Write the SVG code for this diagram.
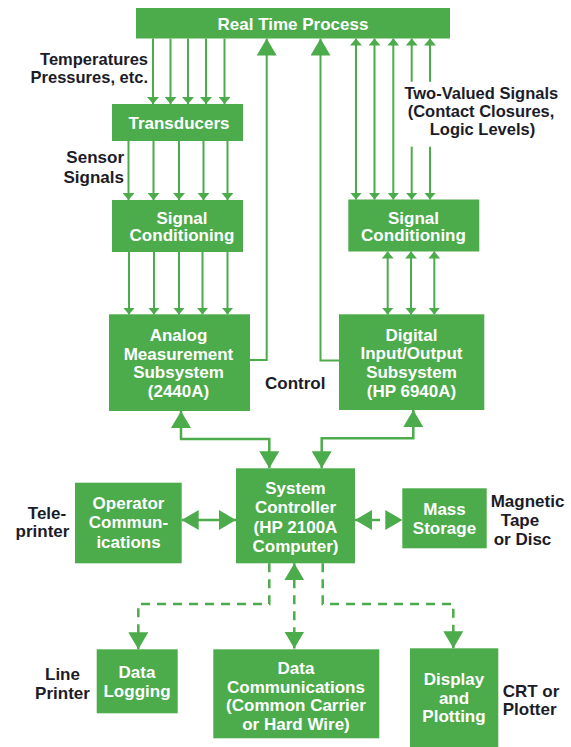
<svg xmlns="http://www.w3.org/2000/svg" width="571" height="747" viewBox="0 0 571 747">
<style>
.box{fill:#4cab4a}
.bt{font-family:"Liberation Sans",Arial,sans-serif;font-weight:700;font-size:17px;fill:#fff;text-anchor:middle}
.lb{font-family:"Liberation Sans",Arial,sans-serif;font-weight:700;font-size:17px;fill:#1c1c28}
.lbs{font-size:16.5px}
.sig{fill:none;stroke:#4cab4a;stroke-width:2}
.con{fill:none;stroke:#4cab4a;stroke-width:2.5}
.dash{fill:none;stroke:#4cab4a;stroke-width:2.5;stroke-dasharray:9 7}
</style>
<defs>
<marker id="sm" viewBox="0 0 7 12" refX="7" refY="6" markerWidth="7" markerHeight="12" markerUnits="userSpaceOnUse" orient="auto-start-reverse">
<path d="M0,0 L7,6 L0,12 z" fill="#4cab4a"/>
</marker>
<marker id="bg" viewBox="0 0 17 20" refX="17" refY="10" markerWidth="17" markerHeight="20" markerUnits="userSpaceOnUse" orient="auto-start-reverse">
<path d="M0,0 L17,10 L0,20 z" fill="#4cab4a"/>
</marker>
</defs>
<rect width="571" height="747" fill="#fff"/>

<g id="connectors">
<!-- RTP to Transducers -->
<path class="sig" marker-end="url(#sm)" d="M153,38.5 V104"/>
<path class="sig" marker-end="url(#sm)" d="M170.5,38.5 V104"/>
<path class="sig" marker-end="url(#sm)" d="M188,38.5 V104"/>
<path class="sig" marker-end="url(#sm)" d="M206,38.5 V104"/>
<path class="sig" marker-end="url(#sm)" d="M224.5,38.5 V104"/>
<!-- Transducers to Signal Conditioning -->
<path class="sig" marker-end="url(#sm)" d="M128.5,141 V200"/>
<path class="sig" marker-end="url(#sm)" d="M153.5,141 V200"/>
<path class="sig" marker-end="url(#sm)" d="M179,141 V200"/>
<path class="sig" marker-end="url(#sm)" d="M203.5,141 V200"/>
<path class="sig" marker-end="url(#sm)" d="M227.5,141 V200"/>
<!-- Signal Conditioning to Analog -->
<path class="sig" marker-end="url(#sm)" d="M129,252 V314.5"/>
<path class="sig" marker-end="url(#sm)" d="M154,252 V314.5"/>
<path class="sig" marker-end="url(#sm)" d="M179,252 V314.5"/>
<path class="sig" marker-end="url(#sm)" d="M202.5,252 V314.5"/>
<path class="sig" marker-end="url(#sm)" d="M227.5,252 V314.5"/>
<!-- RTP to right Signal Conditioning -->
<path class="sig" marker-start="url(#sm)" marker-end="url(#sm)" d="M356,38.5 V199.5"/>
<path class="sig" marker-start="url(#sm)" marker-end="url(#sm)" d="M374.5,38.5 V199.5"/>
<path class="sig" marker-start="url(#sm)" marker-end="url(#sm)" d="M393.3,38.5 V199.5"/>
<path class="sig" marker-start="url(#sm)" d="M411.7,38.5 V81.7"/>
<path class="sig" marker-end="url(#sm)" d="M411.7,146.7 V199.5"/>
<path class="sig" marker-start="url(#sm)" d="M430,38.5 V81.7"/>
<path class="sig" marker-end="url(#sm)" d="M430,146.7 V199.5"/>
<!-- right Signal Conditioning to Digital -->
<path class="sig" marker-start="url(#sm)" marker-end="url(#sm)" d="M387.7,251.5 V314.5"/>
<path class="sig" marker-start="url(#sm)" marker-end="url(#sm)" d="M411,251.5 V314.5"/>
<path class="sig" marker-start="url(#sm)" marker-end="url(#sm)" d="M434.3,251.5 V314.5"/>
<!-- Control lines -->
<path class="sig" marker-end="url(#bg)" d="M250,360 H266.7 V38.5"/>
<path class="sig" marker-end="url(#bg)" d="M339,360.5 H320.5 V38.5"/>
<!-- Subsystems to System Controller -->
<path class="con" marker-start="url(#bg)" marker-end="url(#bg)" d="M181,411 V439 H269.3 V468.3"/>
<path class="con" marker-start="url(#bg)" marker-end="url(#bg)" d="M413.3,410 V438.3 H321.7 V468.3"/>
<!-- Operator <-> System -->
<path class="con" marker-start="url(#bg)" marker-end="url(#bg)" d="M181.7,520 H236"/>
<!-- System <-> Mass Storage -->
<path class="dash" marker-start="url(#bg)" marker-end="url(#bg)" d="M355,520 H402.3"/>
<!-- System to bottom -->
<path class="dash" marker-end="url(#bg)" d="M269.3,563.3 V604 H138.3 V649.3"/>
<path class="dash" marker-start="url(#bg)" marker-end="url(#bg)" d="M294.3,563.3 V648.5"/>
<path class="dash" marker-end="url(#bg)" d="M322.7,563.3 V604 H453.3 V648.3"/>
</g>

<g id="rtp">
<rect class="box" x="136" y="8" width="314" height="30.5"/>
<text class="bt" x="293" y="30">Real Time Process</text>
</g>
<g id="transducers">
<rect class="box" x="112" y="104" width="131" height="37"/>
<text class="bt" x="179" y="129">Transducers</text>
</g>
<g id="sc-left">
<rect class="box" x="112" y="200" width="131" height="52"/>
<text class="bt" x="182" y="223.5">Signal</text>
<text class="bt" x="182" y="241">Conditioning</text>
</g>
<g id="sc-right">
<rect class="box" x="348.3" y="199.5" width="131" height="52"/>
<text class="bt" x="413.5" y="223.5">Signal</text>
<text class="bt" x="413.5" y="241">Conditioning</text>
</g>
<g id="analog">
<rect class="box" x="109" y="314.3" width="141" height="96.7"/>
<text class="bt" x="178.5" y="341">Analog</text>
<text class="bt" x="178.5" y="359.5">Measurement</text>
<text class="bt" x="178.5" y="378">Subsystem</text>
<text class="bt" x="178.5" y="396.5">(2440A)</text>
</g>
<g id="digital">
<rect class="box" x="339" y="314.3" width="145.3" height="95.7"/>
<text class="bt" x="411.5" y="340.5">Digital</text>
<text class="bt" x="411.5" y="359">Input/Output</text>
<text class="bt" x="411.5" y="377.5">Subsystem</text>
<text class="bt" x="411.5" y="396.5">(HP 6940A)</text>
</g>
<g id="system">
<rect class="box" x="236" y="468.3" width="119" height="95"/>
<text class="bt" x="295.5" y="494">System</text>
<text class="bt" x="295.5" y="513">Controller</text>
<text class="bt" x="295.5" y="532.5">(HP 2100A</text>
<text class="bt" x="295.5" y="551.5">Computer)</text>
</g>
<g id="operator">
<rect class="box" x="75" y="482.7" width="106.7" height="80.6"/>
<text class="bt" x="128.5" y="509">Operator</text>
<text class="bt" x="128.5" y="528">Commun-</text>
<text class="bt" x="128.5" y="548">ications</text>
</g>
<g id="mass">
<rect class="box" x="402.3" y="488.3" width="84.4" height="60"/>
<text class="bt" x="444.5" y="515">Mass</text>
<text class="bt" x="444.5" y="533.5">Storage</text>
</g>
<g id="logging">
<rect class="box" x="96.7" y="649.3" width="81" height="64"/>
<text class="bt" x="137" y="678">Data</text>
<text class="bt" x="137" y="697">Logging</text>
</g>
<g id="datacomm">
<rect class="box" x="213.3" y="649.3" width="166" height="89"/>
<text class="bt" x="296" y="673.5">Data</text>
<text class="bt" x="296" y="692.5">Communications</text>
<text class="bt" x="296" y="711">(Common Carrier</text>
<text class="bt" x="296" y="730">or Hard Wire)</text>
</g>
<g id="display">
<rect class="box" x="410" y="648.3" width="88.3" height="98.7"/>
<text class="bt" x="454" y="685">Display</text>
<text class="bt" x="454" y="703.5">and</text>
<text class="bt" x="454" y="722">Plotting</text>
</g>

<g id="labels">
<text class="lb lbs" x="148" y="64.5" text-anchor="end">Temperatures</text>
<text class="lb lbs" x="148" y="82.5" text-anchor="end">Pressures, etc.</text>
<text class="lb" x="124" y="163" text-anchor="end">Sensor</text>
<text class="lb" x="124" y="182.5" text-anchor="end">Signals</text>
<text class="lb lbs" x="481.3" y="99" text-anchor="middle">Two-Valued Signals</text>
<text class="lb lbs" x="481" y="117" text-anchor="middle">(Contact Closures,</text>
<text class="lb lbs" x="482.5" y="135" text-anchor="middle">Logic Levels)</text>
<text class="lb" x="265" y="389">Control</text>
<text class="lb" x="47" y="518.5" text-anchor="middle">Tele-</text>
<text class="lb" x="42.5" y="537" text-anchor="middle">printer</text>
<text class="lb" x="527.5" y="507" text-anchor="middle">Magnetic</text>
<text class="lb" x="520" y="525.5" text-anchor="middle">Tape</text>
<text class="lb" x="522.5" y="545" text-anchor="middle">or Disc</text>
<text class="lb" x="62.5" y="680" text-anchor="middle">Line</text>
<text class="lb" x="62.5" y="698.5" text-anchor="middle">Printer</text>
<text class="lb" x="531" y="697" text-anchor="middle">CRT or</text>
<text class="lb" x="529.7" y="715" text-anchor="middle">Plotter</text>
</g>
</svg>
